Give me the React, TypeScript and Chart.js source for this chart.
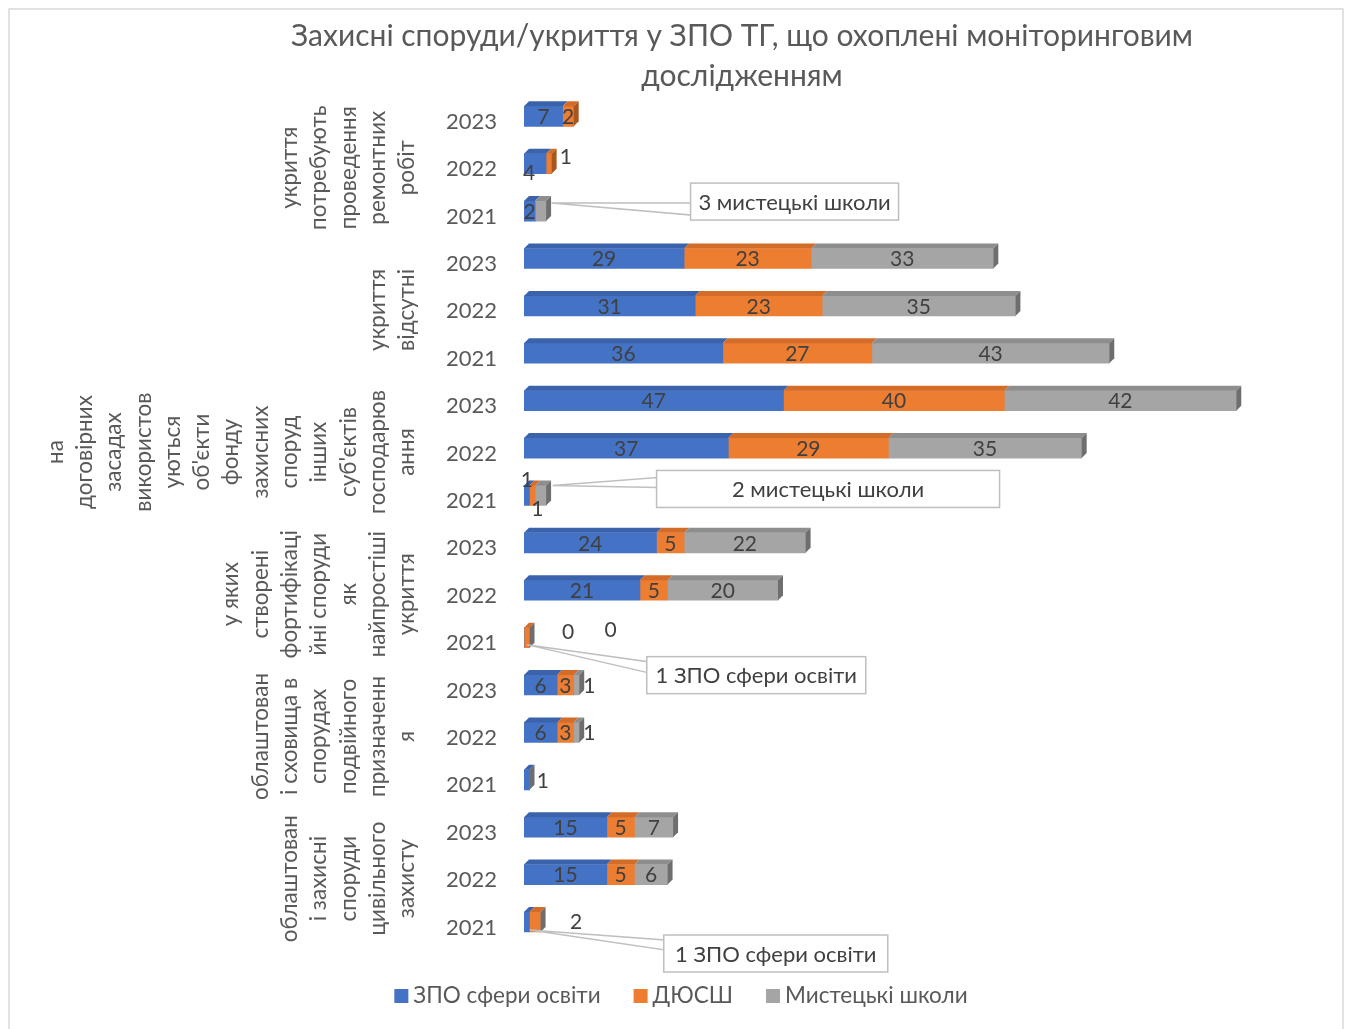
import React, { useEffect, useRef } from "react";
import { Chart, registerables } from "chart.js";
Chart.register(...registerables);

const TITLE_LINES = ["Захисні споруди/укриття у ЗПО ТГ, що охоплені моніторинговим", "дослідженням"];
const SERIES_NAMES = ["ЗПО сфери освіти", "ДЮСШ", "Мистецькі школи"];
const YEARS = [
  "2023", "2022", "2021",
  "2023", "2022", "2021",
  "2023", "2022", "2021",
  "2023", "2022", "2021",
  "2023", "2022", "2021",
  "2023", "2022", "2021",
];
const GROUP_LINES: string[][] = [
  ["укриття", "потребують", "проведення", "ремонтних", "робіт"],
  ["укриття", "відсутні"],
  ["на", "договірних", "засадах", "використов", "уються", "об'єкти", "фонду", "захисних", "споруд", "інших", "суб'єктів", "господарюв", "ання"],
  ["у яких", "створені", "фортифікаці", "йні споруди", "як", "найпростіші", "укриття"],
  ["облаштован", "і сховища в", "спорудах", "подвійного", "призначенн", "я"],
  ["облаштован", "і захисні", "споруди", "цивільного", "захисту"],
];
const GROUP_SIZES = [3, 3, 3, 3, 3, 3];
const ZPO = [7, 4, 2, 29, 31, 36, 47, 37, 1, 24, 21, 0, 6, 6, 1, 15, 15, 1];
const DYUSSH = [2, 1, 0, 23, 23, 27, 40, 29, 1, 5, 5, 1, 3, 3, 0, 5, 5, 2];
const MYST: (number | null)[] = [null, null, 2, 33, 35, 43, 42, 35, 2, 22, 20, 0, 1, 1, 0, 7, 6, 0];
const CALLOUT_TEXTS = ["3 мистецькі школи", "2 мистецькі школи", "1 ЗПО сфери освіти", "1 ЗПО сфери освіти"];

const COLORS = ["#4472C4", "#ED7D31", "#A5A5A5"];
const TOP_COLORS = ["#3B63AC", "#D26C28", "#8E8E8E"];
const SIDE_COLORS = ["#2F5091", "#A8561E", "#6E6E6E"];
const FONT = "Lato, 'Open Sans', sans-serif";
const TEXT = "#595959";
const LABEL = "#404040";

// label tweaks: key "dataset-index"
const LABEL_ADJ: Record<string, { dx?: number; dy?: number; hide?: boolean; show?: boolean }> = {
  "0-1": { dx: -6, dy: 9 },
  "1-1": { dx: 17, dy: -7 },
  "2-2": { hide: true },
  "0-8": { dx: 0, dy: -16 },
  "1-8": { dx: 5, dy: 13 },
  "2-8": { hide: true },
  "0-11": { dx: 44, dy: -6, show: true },
  "1-11": { hide: true },
  "2-11": { dx: 81, dy: -8, show: true },
  "2-12": { dx: 13 },
  "2-13": { dx: 13 },
  "0-14": { dx: 16 },
  "0-17": { hide: true },
  "1-17": { dx: 41, dy: -1 },
};

const CALLOUTS = [
  { ds: 2, idx: 2, ax: 11, ay: -8, bx: 150, by: -28, w: 208, h: 37, w1: 20, w2: 32 },
  { ds: 2, idx: 8, ax: 12, ay: -10, bx: 116, by: -25, w: 343, h: 37, w1: 7, w2: 17 },
  { ds: 1, idx: 11, ax: 0, ay: 7, bx: 120, by: 19, w: 219, h: 37, w1: 5, w2: 16 },
  { ds: 0, idx: 17, ax: 3, ay: 8, bx: 137, by: 13, w: 224, h: 37, w1: 5, w2: 15 },
];

const DX = 5;
const DY = -5;

const decorPlugin = {
  id: "decor",
  beforeDraw(chart: any) {
    const ctx = chart.ctx;
    ctx.save();
    ctx.fillStyle = "#FFFFFF";
    ctx.fillRect(0, 0, chart.width, chart.height);
    ctx.strokeStyle = "#D9D9D9";
    ctx.lineWidth = 1.5;
    ctx.strokeRect(9, 9, 1334, 1030);
    // title
    ctx.fillStyle = TEXT;
    ctx.font = `30px ${FONT}`;
    ctx.textAlign = "center";
    ctx.textBaseline = "middle";
    ctx.fillText(TITLE_LINES[0], 742, 36);
    ctx.fillText(TITLE_LINES[1], 742, 76);
    // legend
    ctx.font = `22.5px ${FONT}`;
    const widths = SERIES_NAMES.map((s) => ctx.measureText(s).width);
    const box = 14, gap = 5, sep = 33;
    const total = widths.reduce((a, b) => a + b, 0) + SERIES_NAMES.length * (box + gap) + sep * (SERIES_NAMES.length - 1);
    let x = 681 - total / 2;
    const ly = 996;
    ctx.textAlign = "left";
    SERIES_NAMES.forEach((s, i) => {
      ctx.fillStyle = COLORS[i];
      ctx.fillRect(x, ly - box / 2, box, box);
      ctx.fillStyle = TEXT;
      ctx.fillText(s, x + box + gap, ly);
      x += box + gap + widths[i] + sep;
    });
    // group labels
    const yScale = chart.scales.y;
    ctx.font = `22.5px ${FONT}`;
    ctx.textAlign = "center";
    let start = 0;
    GROUP_LINES.forEach((lines, g) => {
      const n = GROUP_SIZES[g];
      const cy = (yScale.getPixelForValue(start) + yScale.getPixelForValue(start + n - 1)) / 2 + 4;
      const count = lines.length;
      lines.forEach((line, i) => {
        const lx = 407 - (count - 1 - i) * 29.3;
        ctx.save();
        ctx.translate(lx, cy);
        ctx.rotate(-Math.PI / 2);
        ctx.fillStyle = TEXT;
        ctx.fillText(line, 0, 0);
        ctx.restore();
      });
      start += n;
    });
    ctx.restore();
  },
  afterDatasetsDraw(chart: any) {
    const ctx = chart.ctx;
    const nData = chart.data.datasets.length;
    const metas = chart.data.datasets.map((_: any, i: number) => chart.getDatasetMeta(i));
    const count = chart.data.labels.length;
    ctx.save();
    for (let idx = 0; idx < count; idx++) {
      let lastDs = -1;
      for (let d = 0; d < nData; d++) {
        const v = chart.data.datasets[d].data[idx];
        if (v !== null && v !== undefined) lastDs = d;
      }
      for (let d = 0; d < nData; d++) {
        const el = metas[d].data[idx];
        const v = chart.data.datasets[d].data[idx];
        if (!el || v === null || v === undefined || v === 0) continue;
        const left = Math.min(el.x, el.base);
        const right = Math.max(el.x, el.base);
        const top = el.y - el.height / 2;
        ctx.fillStyle = TOP_COLORS[d];
        ctx.beginPath();
        ctx.moveTo(left, top);
        ctx.lineTo(left + DX, top + DY);
        ctx.lineTo(right + DX, top + DY);
        ctx.lineTo(right, top);
        ctx.closePath();
        ctx.fill();
      }
      if (lastDs >= 0) {
        const el = metas[lastDs].data[idx];
        const right = Math.max(el.x, el.base);
        const top = el.y - el.height / 2;
        const bottom = el.y + el.height / 2;
        ctx.fillStyle = SIDE_COLORS[lastDs];
        ctx.beginPath();
        ctx.moveTo(right, top);
        ctx.lineTo(right + DX, top + DY);
        ctx.lineTo(right + DX, bottom + DY);
        ctx.lineTo(right, bottom);
        ctx.closePath();
        ctx.fill();
      }
    }
    // data labels
    ctx.font = `21px ${FONT}`;
    ctx.fillStyle = LABEL;
    ctx.textAlign = "center";
    ctx.textBaseline = "middle";
    for (let d = 0; d < nData; d++) {
      for (let idx = 0; idx < count; idx++) {
        const v = chart.data.datasets[d].data[idx];
        const adj = LABEL_ADJ[`${d}-${idx}`] || {};
        if (adj.hide || v === null || v === undefined) continue;
        if (v === 0 && !adj.show) continue;
        const el = metas[d].data[idx];
        const cx = (el.x + el.base) / 2 + (adj.dx || 0);
        const cy = el.y + (adj.dy || 0) + 1;
        ctx.fillText(String(v), cx, cy);
      }
    }
    // callouts
    CALLOUTS.forEach((c, i) => {
      const el = metas[c.ds].data[c.idx];
      const sx = (el.x + el.base) / 2;
      const sy = el.y;
      const ax = sx + c.ax, ay = sy + c.ay;
      const bl = sx + c.bx, bt = sy + c.by;
      ctx.lineWidth = 1.5;
      ctx.strokeStyle = "#BFBFBF";
      ctx.fillStyle = "#FFFFFF";
      ctx.beginPath();
      ctx.moveTo(ax, ay);
      ctx.lineTo(bl + 1, bt + c.w1);
      ctx.lineTo(bl + 1, bt + c.w2);
      ctx.closePath();
      ctx.fill();
      ctx.stroke();
      ctx.fillRect(bl, bt, c.w, c.h);
      ctx.strokeRect(bl, bt, c.w, c.h);
      ctx.fillStyle = LABEL;
      ctx.font = `22px ${FONT}`;
      ctx.fillText(CALLOUT_TEXTS[i], bl + c.w / 2, bt + c.h / 2 + 1);
    });
    ctx.restore();
  },
};

export default function App() {
  const ref = useRef<HTMLCanvasElement>(null);
  useEffect(() => {
    if (!ref.current) return;
    const chart = new Chart(ref.current, {
      type: "bar",
      data: {
        labels: YEARS,
        datasets: [
          { label: SERIES_NAMES[0], data: ZPO, backgroundColor: COLORS[0], barThickness: 20 },
          { label: SERIES_NAMES[1], data: DYUSSH, backgroundColor: COLORS[1], barThickness: 20 },
          { label: SERIES_NAMES[2], data: MYST as any, backgroundColor: COLORS[2], barThickness: 20 },
        ],
      },
      options: {
        indexAxis: "y",
        animation: false,
        responsive: false,
        devicePixelRatio: 1,
        layout: { padding: { left: 10, right: 55, top: 92.6, bottom: 83.3 } },
        plugins: { legend: { display: false }, title: { display: false }, tooltip: { enabled: false } },
        scales: {
          x: { stacked: true, display: false, min: 0, max: 140 },
          y: {
            stacked: true,
            grid: { display: false, drawTicks: false },
            border: { display: false },
            ticks: { padding: 27, labelOffset: 5.5, color: TEXT, font: { family: FONT, size: 22 }, autoSkip: false },
            afterFit: (scale: any) => {
              scale.width = 514;
            },
          },
        },
      },
      plugins: [decorPlugin],
    });
    return () => chart.destroy();
  }, []);
  return (
    <div style={{ position: "fixed", left: 0, top: 0, width: 1352, height: 1029 }}>
      <canvas ref={ref} width={1352} height={1029} style={{ display: "block", width: 1352, height: 1029 }} />
    </div>
  );
}
